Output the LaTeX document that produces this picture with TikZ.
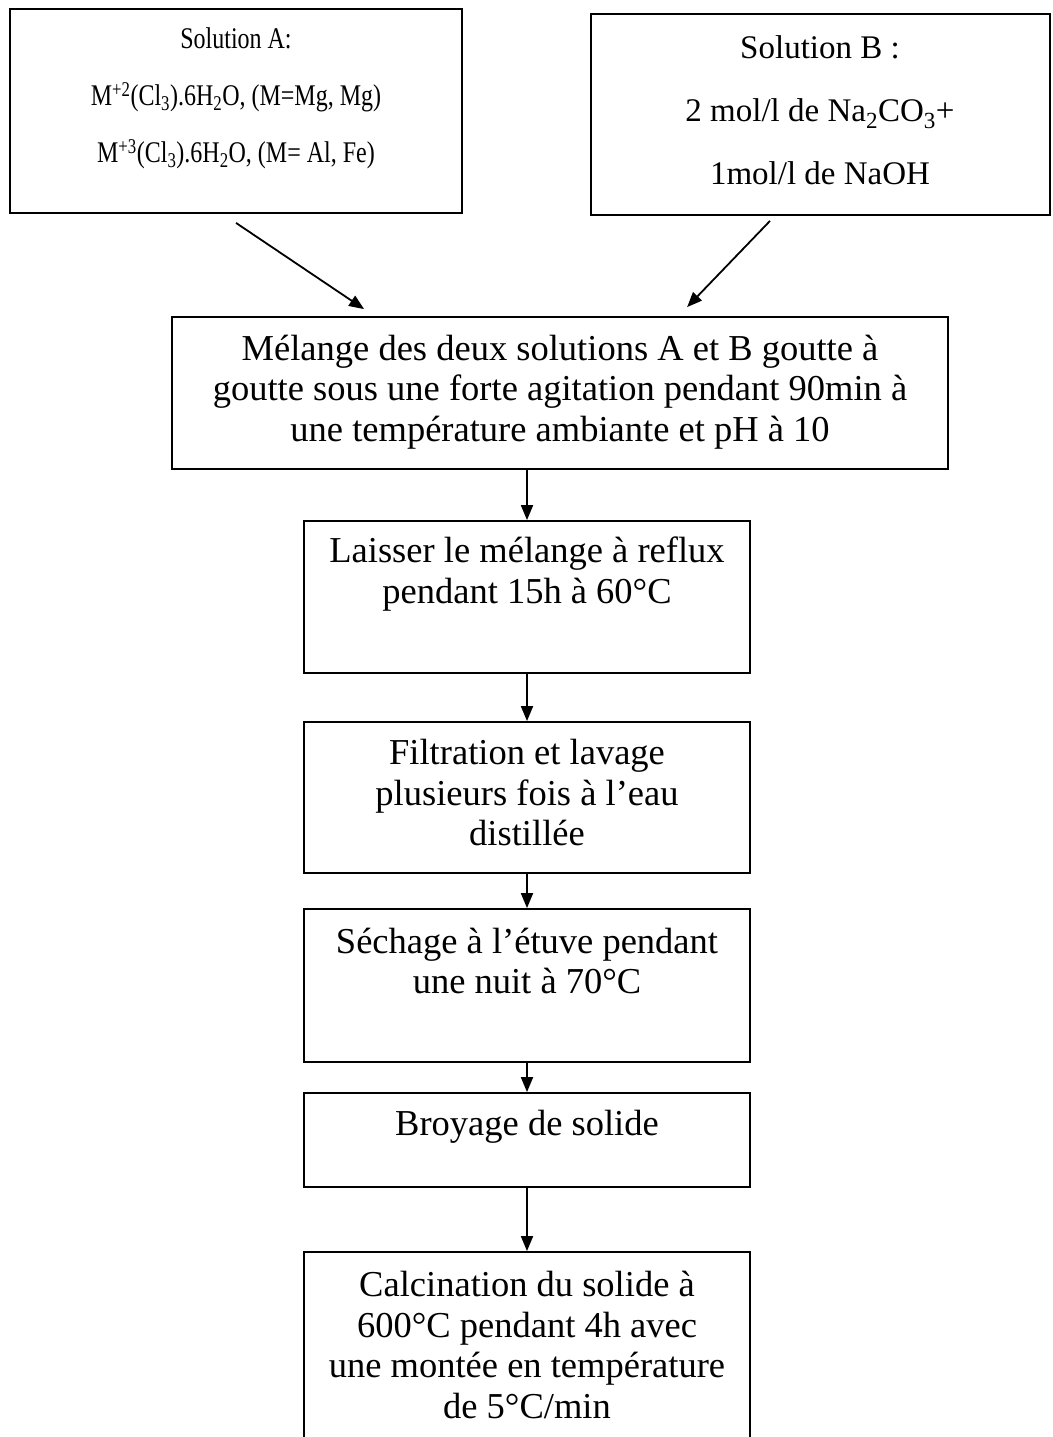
\documentclass[tikz,border=0pt]{standalone}
\usepackage{fontspec}
\setmainfont{Liberation Serif}
\newfontfamily\narrowserif[FakeStretch=0.8]{Liberation Serif}
\usetikzlibrary{arrows.meta,calc}
\begin{document}
\begin{tikzpicture}[x=1pt,y=-1pt,
  box/.style={draw, line width=1.8pt, rectangle, inner sep=0pt},
  txt/.style={align=center, inner sep=0pt, font=\fontsize{36.5}{40.5}\selectfont},
  txtA/.style={align=center, inner sep=0pt, font=\narrowserif\fontsize{30}{57}\selectfont},
  txtB/.style={align=center, inner sep=0pt, font=\fontsize{33}{63}\selectfont},
  flow/.style={line width=1.8pt, -{Triangle[length=15pt,width=12pt]}}]
\useasboundingbox (0,0) rectangle (1052,1437);
% boxes
\node[box, minimum width=452pt, minimum height=204pt] (A) at (236,111) {};
\node[box, minimum width=459pt, minimum height=201pt] (B) at (820.5,114.5) {};
\node[box, minimum width=776pt, minimum height=152pt] (mel) at (560,393) {};
\node[box, minimum width=446pt, minimum height=152pt] (b2) at (527,597) {};
\node[box, minimum width=446pt, minimum height=151pt] (b3) at (527,797.5) {};
\node[box, minimum width=446pt, minimum height=153pt] (b4) at (527,985.5) {};
\node[box, minimum width=446pt, minimum height=94pt] (b5) at (527,1140) {};
\node[box, minimum width=446pt, minimum height=208pt] (b6) at (527,1356) {};
% texts
\node[txtA] (tA) at (236,98) {Solution A:\\M\textsuperscript{+2}(Cl\textsubscript{3}).6H\textsubscript{2}O, (M=Mg, Mg)\\M\textsuperscript{+3}(Cl\textsubscript{3}).6H\textsubscript{2}O, (M= Al, Fe)};
\node[txtB] (tB) at (820,110) {Solution B :\\2 mol/l de Na\textsubscript{2}CO\textsubscript{3}+\\1mol/l de NaOH};
\node[txt] (tmel) at (560,392) {Mélange des deux solutions A et B goutte à\\goutte sous une forte agitation pendant 90min à\\une température ambiante et pH à 10};
\node[txt] (t2) at (527,574) {Laisser le mélange à reflux\\pendant 15h à 60°C};
\node[txt] (t3) at (527,793) {Filtration et lavage\\plusieurs fois à l’eau\\distillée};
\node[txt] (t4) at (527,961) {Séchage à l’étuve pendant\\une nuit à 70°C};
\node[txt] (t5) at (527,1127) {Broyage de solide};
\node[txt] (t6) at (527,1345) {Calcination du solide à\\600°C pendant 4h avec\\une montée en température\\de 5°C/min};
% connectors
\draw[flow] ([yshift=-9pt]A.south) -- ([xshift=193pt,yshift=7pt]mel.north west);
\draw[flow] ([xshift=-50.5pt,yshift=-5pt]B.south) -- ([xshift=516pt,yshift=9pt]mel.north west);
\draw[flow] (mel.south -| b2.north) -- (b2.north);
\draw[flow] (b2.south) -- (b3.north);
\draw[flow] (b3.south) -- (b4.north);
\draw[flow] (b4.south) -- (b5.north);
\draw[flow] (b5.south) -- (b6.north);
\end{tikzpicture}
\end{document}
